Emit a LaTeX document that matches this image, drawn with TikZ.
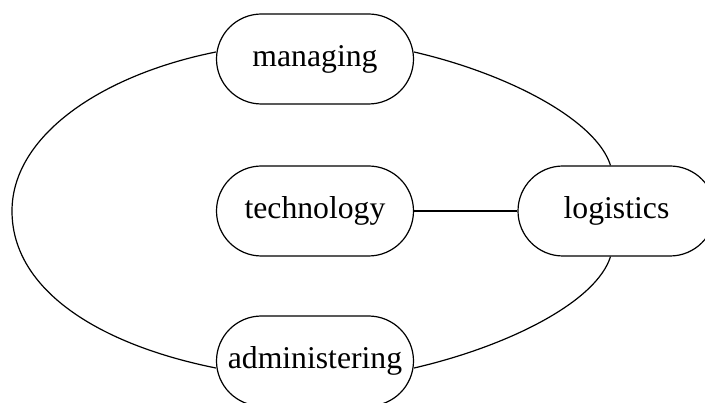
\documentclass[tikz,border=0pt]{standalone}
\usepackage{fontspec}
\setmainfont{Liberation Serif}
\begin{document}
\begin{tikzpicture}[x=1pt,y=-1pt,
  pill/.style={draw,line width=1.2pt,rounded corners=45pt,minimum width=197pt,minimum height=90pt,inner sep=0pt,font=\fontsize{31.7}{38}\selectfont},
  link/.style={line width=1.2pt}]
\useasboundingbox (0,0) rectangle (705,403);
\node[pill] (managing) at (315,59) {managing};
\node[pill] (technology) at (315,211) {technology};
\node[pill] (logistics) at (616.5,211) {logistics};
\node[pill] (administering) at (315,361) {administering};
\coordinate (lft) at (12,211);
\draw[link] ([yshift=7pt]managing.west) .. controls +(-115,23) and +(0,-75) .. (lft)
  .. controls +(0,80) and +(-115,-23) .. ([yshift=-7pt]administering.west);
\draw[link] ([yshift=7pt]managing.east) .. controls +(95,22) and +(-14,-45) .. ([xshift=-6pt]logistics.north);
\draw[link] ([xshift=-6pt]logistics.south) .. controls +(-14,45) and +(95,-22) .. ([yshift=-7pt]administering.east);
\draw[link] (technology.east) -- (logistics.west);
\end{tikzpicture}
\end{document}
